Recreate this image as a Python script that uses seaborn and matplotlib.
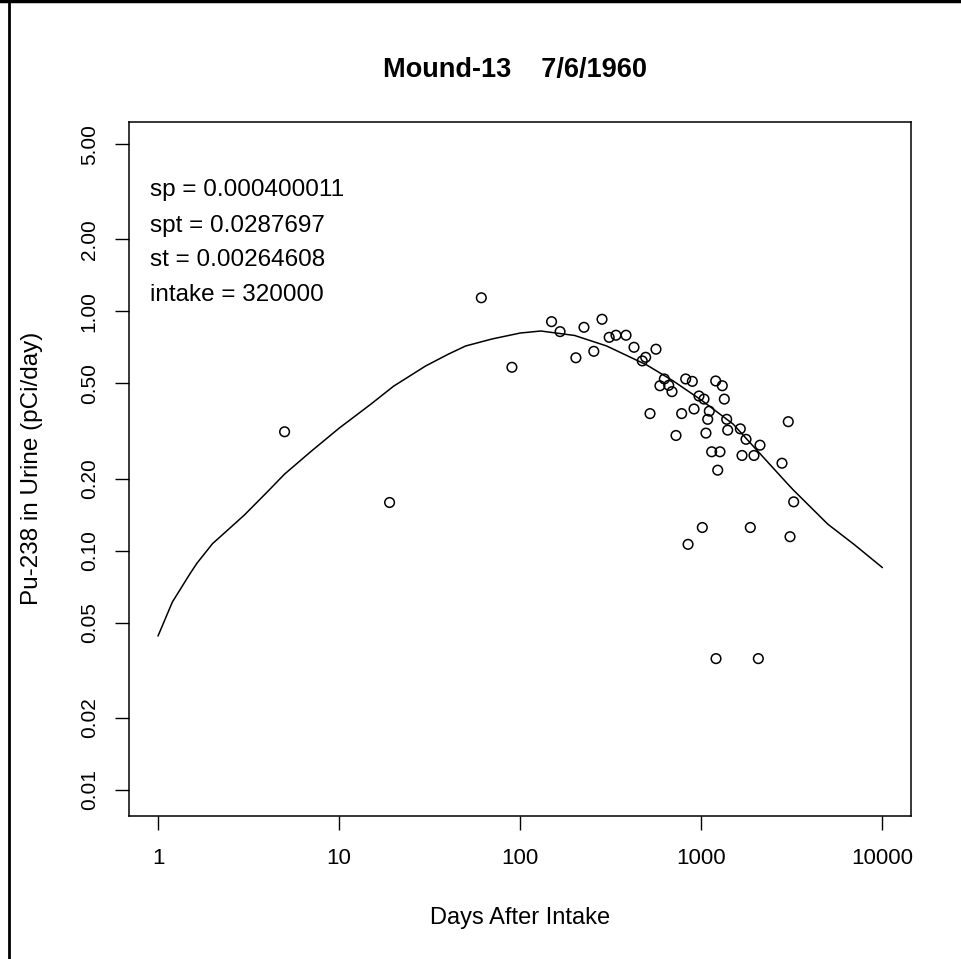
import matplotlib
matplotlib.use("Agg")
import matplotlib.pyplot as plt
import seaborn as sns
import pandas as pd
from matplotlib.lines import Line2D
from matplotlib.ticker import FixedLocator, FixedFormatter, NullLocator

# ---- data ----
days = [5, 19, 61, 90, 149, 166, 225, 283, 310, 338,
        384, 425, 562, 493, 472, 203, 255, 625, 591, 661,
        689, 820, 892, 1201, 1306, 971, 1035, 1340, 1107, 912,
        779, 521, 1085, 1381, 1399, 1642, 1766, 3022, 725, 1061,
        2109, 1141, 1268, 1678, 1954, 1232, 2790, 3237, 1013, 1865,
        3090, 845, 1206, 2065]
urine = [0.314, 0.159, 1.14, 0.584, 0.906, 0.823, 0.858, 0.927, 0.779, 0.795,
         0.795, 0.708, 0.695, 0.643, 0.621, 0.640, 0.681, 0.522, 0.489, 0.491,
         0.462, 0.522, 0.510, 0.512, 0.489, 0.443, 0.430, 0.430, 0.383, 0.391,
         0.374, 0.374, 0.354, 0.354, 0.319, 0.323, 0.292, 0.346, 0.303, 0.310,
         0.276, 0.259, 0.259, 0.250, 0.250, 0.217, 0.232, 0.160, 0.125, 0.125,
         0.1144, 0.1063, 0.0354, 0.0354]

fit_days = [1, 1.2, 1.5, 1.64, 2, 2.5, 3, 4, 5, 7, 10, 15, 20, 30, 40, 50, 70, 100,
            130, 200, 300, 500, 700, 1000, 1500, 2000, 3000, 3230, 5000, 7000, 10000]
fit_vals = [0.044, 0.061, 0.080, 0.0886, 0.107, 0.1245, 0.141, 0.1756, 0.209, 0.260,
            0.325, 0.410, 0.487, 0.591, 0.662, 0.717, 0.767, 0.812, 0.828, 0.793,
            0.717, 0.597, 0.512, 0.426, 0.338, 0.266, 0.190, 0.179, 0.129, 0.106,
            0.085]

x_ticks = [1, 10, 100, 1000, 10000]
x_tick_labels = ["1", "10", "100", "1000", "10000"]
y_ticks = [0.01, 0.02, 0.05, 0.10, 0.20, 0.50, 1.00, 2.00, 5.00]
y_tick_labels = ["0.01", "0.02", "0.05", "0.10", "0.20", "0.50", "1.00", "2.00", "5.00"]

params = ["sp = 0.000400011", "spt = 0.0287697", "st = 0.00264608", "intake = 320000"]
title = "Mound-13    7/6/1960"
xlabel = "Days After Intake"
ylabel = "Pu-238 in Urine (pCi/day)"

# ---- style ----
sns.set_style("ticks")
plt.rcParams['font.family'] = ['Liberation Sans', 'DejaVu Sans']

W, H = 961, 959
fig = plt.figure(figsize=(W / 100, H / 100), dpi=100)
fig.patch.set_facecolor("white")

left_px, right_px, top_px, bottom_px = 129.3, 910.7, 121.7, 816.0
ax = fig.add_axes([left_px / W, 1 - bottom_px / H,
                   (right_px - left_px) / W, (bottom_px - top_px) / H])
ax.set_facecolor("white")

pts = pd.DataFrame({"days": days, "urine": urine})
fit = pd.DataFrame({"days": fit_days, "urine": fit_vals})

sns.lineplot(data=fit, x="days", y="urine", ax=ax, color="black", lw=1.1,
             sort=False, estimator=None)
sns.scatterplot(data=pts, x="days", y="urine", ax=ax, marker="o", s=48,
                facecolor="none", edgecolor="black", linewidth=1.1)

ax.set_xscale("log")
ax.set_yscale("log")
ax.set_xlim(10 ** -0.1585, 10 ** 4.1563)
ax.set_ylim(10 ** -2.1087, 10 ** 0.7927)

ax.xaxis.set_major_locator(FixedLocator(x_ticks))
ax.xaxis.set_major_formatter(FixedFormatter(x_tick_labels))
ax.xaxis.set_minor_locator(NullLocator())
ax.yaxis.set_major_locator(FixedLocator(y_ticks))
ax.yaxis.set_major_formatter(FixedFormatter(y_tick_labels))
ax.yaxis.set_minor_locator(NullLocator())

for s in ax.spines.values():
    s.set_color("black")
    s.set_linewidth(1.1)

ax.tick_params(axis="x", direction="out", length=10, width=1.0, color="black",
               labelsize=16, pad=13, labelcolor="black")
ax.tick_params(axis="y", direction="out", length=10, width=1.0, color="black",
               labelsize=15, pad=12, labelcolor="black")
for lab in ax.get_yticklabels():
    lab.set_rotation(90)
    lab.set_va("center")
    lab.set_ha("right")

ax.set_xlabel(xlabel, fontsize=17, color="black")
ax.set_ylabel(ylabel, fontsize=17.5, color="black")
ax.xaxis.label.set_va("center")
ax.yaxis.label.set_va("center")
ax.xaxis.set_label_coords(0.5, (bottom_px - 918) / (bottom_px - top_px))
ax.yaxis.set_label_coords((32 - left_px) / (right_px - left_px), 0.5)

line_y = [190, 226, 260, 295]
for txt, yp in zip(params, line_y):
    ax.text((150.5 - left_px) / (right_px - left_px),
            (bottom_px - yp) / (bottom_px - top_px),
            txt, transform=ax.transAxes, fontsize=17.5, va="center", ha="left",
            color="black")

fig.text(515 / W, 1 - 70 / H, title, fontsize=19.5, fontweight="bold",
         ha="center", va="center", color="black")

# outer frame (top and left edges)
fig.add_artist(Line2D([9 / W, 9 / W], [0, 1], transform=fig.transFigure,
                      color="black", lw=2))
fig.add_artist(Line2D([0, 1], [1 - 1 / H, 1 - 1 / H], transform=fig.transFigure,
                      color="black", lw=2.5))

fig.savefig("out.png", dpi=100)
